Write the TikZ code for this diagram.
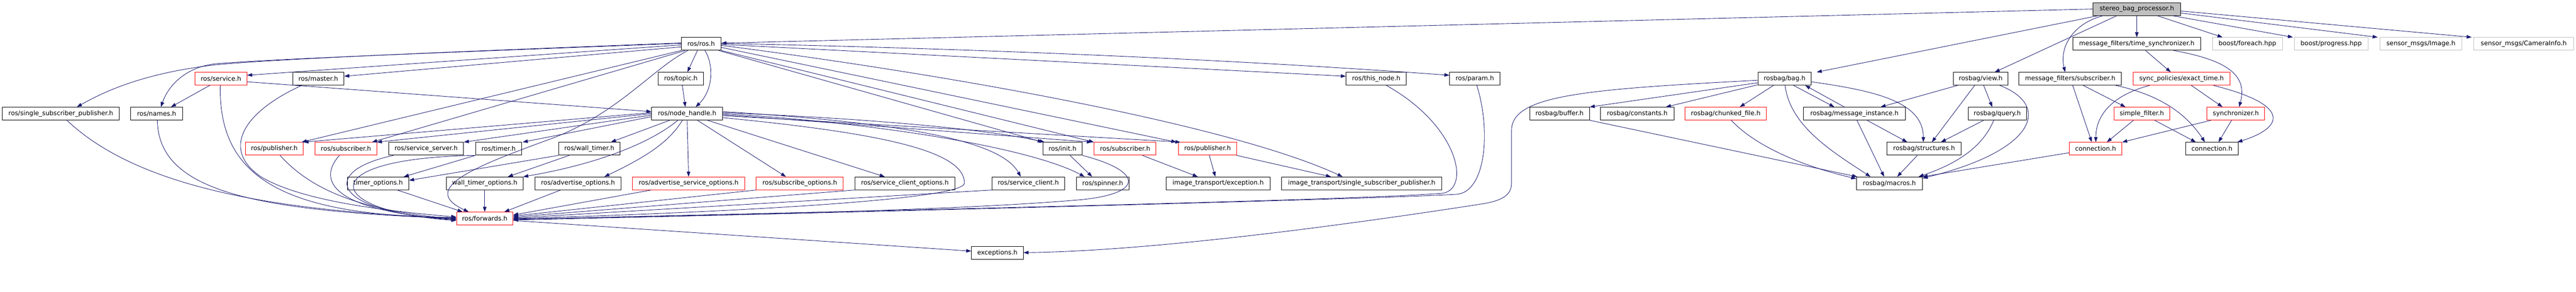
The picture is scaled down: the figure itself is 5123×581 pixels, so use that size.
\documentclass[tikz,border=0pt]{standalone}
\usepackage{fontspec}
\newfontfamily\dejavu{DejaVu Sans}
\usetikzlibrary{arrows.meta}
\definecolor{edgeblue}{HTML}{191970}
\definecolor{grayseventyfive}{HTML}{BFBFBF}
\tikzset{
  box/.style={draw=black, line width=1pt, fill=white, minimum height=25.5pt, inner sep=0pt, text=black, font={\dejavu\fontsize{12.6}{15}\selectfont}},
  redbox/.style={box, draw=red},
  greybox/.style={box, draw=grayseventyfive},
  rootbox/.style={box, fill=grayseventyfive},
  edge/.style={draw=edgeblue, line width=0.9pt, -{Triangle[length=10pt,width=7pt]}}
}
\begin{document}
\begin{tikzpicture}[x=1pt,y=-1pt]
\useasboundingbox (0,0) rectangle (5123,581);
% row 0
\node[rootbox, minimum width=175pt] (S) at (4249.5,18) {stereo\_bag\_processor.h};
% row 1
\node[box, minimum width=79pt] (rosh) at (1394.5,87.5) {ros/ros.h};
\node[box, minimum width=255pt] (mfts) at (4249.5,87.5) {message\_filters/time\_synchronizer.h};
\node[greybox, minimum width=139pt] (foreach) at (4469.5,87.5) {boost/foreach.hpp};
\node[greybox, minimum width=146pt] (progress) at (4636,87.5) {boost/progress.hpp};
\node[greybox, minimum width=163pt] (image) at (4814.5,87.5) {sensor\_msgs/Image.h};
\node[greybox, minimum width=198pt] (caminfo) at (5019,87.5) {sensor\_msgs/CameraInfo.h};
% row 2
\node[redbox, minimum width=103pt] (service) at (439.5,157) {ros/service.h};
\node[box, minimum width=102pt] (master) at (633,157) {ros/master.h};
\node[box, minimum width=90pt] (topic) at (1354,157) {ros/topic.h};
\node[box, minimum width=120pt] (thisnode) at (2737,157) {ros/this\_node.h};
\node[box, minimum width=100pt] (param) at (2933,157) {ros/param.h};
\node[box, minimum width=106pt] (bag) at (3549,157) {rosbag/bag.h};
\node[box, minimum width=108pt] (view) at (3939,157) {rosbag/view.h};
\node[box, minimum width=204pt] (mfsub) at (4117,157) {message\_filters/subscriber.h};
\node[redbox, minimum width=193pt] (exact) at (4338.5,157) {sync\_policies/exact\_time.h};
% row 3
\node[box, minimum width=232pt] (ssp) at (121,226.5) {ros/single\_subscriber\_publisher.h};
\node[box, minimum width=103pt] (names) at (311.5,226.5) {ros/names.h};
\node[box, minimum width=141pt] (nh) at (1366.5,226.5) {ros/node\_handle.h};
\node[box, minimum width=119pt] (buffer) at (3101.5,226.5) {rosbag/buffer.h};
\node[box, minimum width=146pt] (constants) at (3256,226.5) {rosbag/constants.h};
\node[redbox, minimum width=162pt] (chunked) at (3432,226.5) {rosbag/chunked\_file.h};
\node[box, minimum width=202pt] (msginst) at (3688,226.5) {rosbag/message\_instance.h};
\node[box, minimum width=116pt] (query) at (3972,226.5) {rosbag/query.h};
\node[redbox, minimum width=111pt] (simple) at (4259.5,226.5) {simple\_filter.h};
\node[redbox, minimum width=115pt] (sync) at (4446.5,226.5) {synchronizer.h};
% row 4
\node[redbox, minimum width=115pt] (pub1) at (545.5,296.5) {ros/publisher.h};
\node[redbox, minimum width=122pt] (sub1) at (688,296.5) {ros/subscriber.h};
\node[box, minimum width=149pt] (srvsrv) at (847.5,296.5) {ros/service\_server.h};
\node[box, minimum width=91pt] (timer) at (991.5,296.5) {ros/timer.h};
\node[box, minimum width=122pt] (wtimer) at (1172,296.5) {ros/wall\_timer.h};
\node[box, minimum width=78pt] (init) at (2113,296.5) {ros/init.h};
\node[redbox, minimum width=123pt] (sub2) at (2237.5,296.5) {ros/subscriber.h};
\node[redbox, minimum width=115pt] (pub2) at (2401.5,296.5) {ros/publisher.h};
\node[box, minimum width=147pt] (structs) at (3826.5,296.5) {rosbag/structures.h};
\node[redbox, minimum width=105pt] (conn1) at (4167.5,296.5) {connection.h};
\node[box, minimum width=104pt] (conn2) at (4399,296.5) {connection.h};
% row 5
\node[box, minimum width=122pt] (topts) at (752,365.5) {timer\_options.h};
\node[box, minimum width=152pt] (wtopts) at (964,365.5) {wall\_timer\_options.h};
\node[box, minimum width=171pt] (advopts) at (1149.5,365.5) {ros/advertise\_options.h};
\node[redbox, minimum width=223pt] (advsrvopts) at (1369.5,365.5) {ros/advertise\_service\_options.h};
\node[redbox, minimum width=173pt] (subopts) at (1590.5,365.5) {ros/subscribe\_options.h};
\node[box, minimum width=199pt] (srvcliopts) at (1799.5,365.5) {ros/service\_client\_options.h};
\node[box, minimum width=144pt] (srvcli) at (2045,365.5) {ros/service\_client.h};
\node[box, minimum width=104pt] (spinner) at (2193,365.5) {ros/spinner.h};
\node[box, minimum width=207pt] (itexc) at (2422.5,365.5) {image\_transport/exception.h};
\node[box, minimum width=318pt] (itssp) at (2708,365.5) {image\_transport/single\_subscriber\_publisher.h};
\node[box, minimum width=131pt] (macros) at (3757.5,365.5) {rosbag/macros.h};
% row 6, 7
\node[redbox, minimum width=112pt] (forwards) at (964,435.5) {ros/forwards.h};
\node[box, minimum width=103pt] (exceptions) at (1983.5,504.5) {exceptions.h};

% ---- edges from the root
\draw[edge] (S.west) -- ([yshift=1.5]rosh.east);
\draw[edge] ([xshift=-76.5]S.south) -- ([xshift=64]bag.north);
\draw[edge] ([xshift=-39.5]S.south) -- ([xshift=28]view.north);
\draw[edge] ([xshift=-66.5]S.south) .. controls +(-60,15) and +(-12,-50) .. ([xshift=-10]mfsub.north);
\draw[edge] (S.south) -- (mfts.north);
\draw[edge] ([xshift=40.5]S.south) -- ([xshift=-49.5]foreach.north);
\draw[edge] ([xshift=70.5]S.south) -- ([xshift=-76]progress.north);
\draw[edge] ([yshift=-8]S.east) -- ([xshift=-4]image.north west);
\draw[edge] ([yshift=-4]S.east) -- ([xshift=-4]caminfo.north west);

% ---- ros/ros.h
\draw[edge] ([yshift=2]rosh.west) .. controls (900,103) and (560,117) .. (430,129) .. controls (300,144) and (220,175) .. ([xshift=32]ssp.north);
\draw[edge] ([yshift=1]rosh.west) .. controls (900,104) and (550,117) .. (430,127) .. controls (370,133) and (335,170) .. ([xshift=8.5]names.north);
\draw[edge] ([yshift=-2]rosh.west) -- ([yshift=7]service.east);
\draw[edge] ([yshift=-6]rosh.west) -- ([yshift=5]master.east);
\draw[edge] (rosh.south west) -- ([xshift=54.5]pub1.north);
\draw[edge] ([xshift=-32]rosh.south) -- ([xshift=52]sub1.north);
\draw[edge] ([xshift=-7.5]rosh.south) -- ([xshift=13]topic.north);
\draw[edge] ([xshift=7.5]rosh.south) .. controls (1420,130) and (1418,180) .. ([xshift=17]nh.north);
\draw[edge] ([yshift=-1]rosh.east) -- ([yshift=5]thisnode.west);
\draw[edge] ([yshift=1]rosh.east) .. controls (2000,98) and (2500,122) .. ([yshift=7]param.west);
\draw[edge] ([yshift=-3]rosh.east) .. controls (1900,150) and (2450,250) .. ([xshift=-38]itssp.north);
\draw[edge] ([yshift=-7]rosh.east) -- ([xshift=-4]pub2.north west);
\draw[edge] (rosh.south east) -- (sub2.north west);
\draw[edge] ([xshift=-5]rosh.south east) -- (init.north west);
\draw[edge] ([xshift=-26.5]rosh.south) .. controls (1300,135) and (1230,225) .. (1100,275) .. controls (950,330) and (830,375) .. ([xshift=-32]forwards.north);

% ---- ros/node_handle.h
\draw[edge] ([yshift=2]nh.west) -- (pub1.north east);
\draw[edge] (nh.west) -- (sub1.north east);
\draw[edge] ([yshift=-3]nh.west) -- (srvsrv.north east);
\draw[edge] ([yshift=-6]nh.west) -- ([xshift=2]timer.north east);
\draw[edge] ([xshift=-34.5]nh.south) -- ([xshift=43]wtimer.north);
\draw[edge] ([xshift=-18.5]nh.south) .. controls (1300,280) and (1200,325) .. (wtopts.north east);
\draw[edge] ([xshift=-9.5]nh.south) .. controls (1330,285) and (1280,315) .. ([xshift=52.5]advopts.north);
\draw[edge] (nh.south) -- (advsrvopts.north);
\draw[edge] ([xshift=20.5]nh.south) -- ([xshift=-27.5]subopts.north);
\draw[edge] ([xshift=40.5]nh.south) -- ([xshift=-40]srvcliopts.north);
\draw[edge] ([yshift=4]nh.east) .. controls (1800,245) and (1990,280) .. ([xshift=-15]srvcli.north);
\draw[edge] ([yshift=2]nh.east) .. controls (1700,235) and (1950,255) .. ([xshift=4]init.north west);
\draw[edge] (nh.east) .. controls (1750,245) and (2050,295) .. ([xshift=-36]spinner.north);
\draw[edge] ([yshift=-2]nh.east) -- ([xshift=-4]sub2.north west);
\draw[edge] ([yshift=-4]nh.east) -- ([xshift=4]pub2.north west);
\draw[edge] ([yshift=-8]nh.east) .. controls (1750,265) and (1918,300) .. (1918,365) .. controls (1918,400) and (1400,425) .. (forwards.east);

% ---- other ros headers
\draw[edge] ([xshift=-22.5]service.south) -- ([xshift=28.5]names.north);
\draw[edge] ([yshift=-6]service.east) -- ([yshift=4]nh.west);
\draw[edge] ([xshift=-1.5]service.south) .. controls (435,340) and (540,430) .. ([yshift=2]forwards.west);
\draw[edge] ([xshift=-33]master.south) .. controls (480,225) and (440,300) .. (520,353) .. controls (600,400) and (760,420) .. ([yshift=3]forwards.west);
\draw[edge] ([xshift=3]topic.south) -- ([xshift=-3.5]nh.north);
\draw[edge] ([xshift=12]ssp.south) .. controls (260,360) and (500,420) .. ([yshift=1]forwards.west);
\draw[edge] ([xshift=1.5]names.south) .. controls (315,380) and (500,420) .. ([yshift=0]forwards.west);
\draw[edge] ([xshift=11.5]pub1.south) .. controls (620,380) and (720,420) .. ([yshift=-1]forwards.west);
\draw[edge] ([xshift=-13]sub1.south) .. controls (630,360) and (660,420) .. ([yshift=-2]forwards.west);
\draw[edge] ([xshift=10]srvsrv.south west) .. controls (640,340) and (650,420) .. ([yshift=-3]forwards.west);
\draw[edge] (timer.south west) .. controls (620,315) and (640,420) .. ([yshift=-4]forwards.west);
\draw[edge] (timer.south west) -- ([xshift=51]topts.north);
\draw[edge] (wtimer.south west) -- ([yshift=6]topts.east);
\draw[edge] ([xshift=-40]wtimer.south) -- ([xshift=46]wtopts.north);
\draw[edge] ([xshift=38]topts.south) -- ([xshift=-44]forwards.north);
\draw[edge] (wtopts.south) -- (forwards.north);
\draw[edge] ([xshift=-34.5]advopts.south) -- ([xshift=39]forwards.north);
\draw[edge] ([xshift=-74.5]advsrvopts.south) -- ([yshift=7]forwards.east);
\draw[edge] (subopts.south west) -- ([yshift=5]forwards.east);
\draw[edge] (srvcliopts.south west) -- ([yshift=3]forwards.east);
\draw[edge] (srvcli.south west) -- ([yshift=1]forwards.east);
\draw[edge] (init.south east) .. controls (2270,340) and (2280,385) .. (2150,398) .. controls (1900,420) and (1400,430) .. ([yshift=-1]forwards.east);
\draw[edge] ([xshift=15]init.south) -- ([xshift=-21]spinner.north);
\draw[edge] ([xshift=34.5]sub2.south) -- ([xshift=-40.5]itexc.north);
\draw[edge] ([xshift=3.5]pub2.south) -- ([xshift=-5.5]itexc.north);
\draw[edge] (pub2.south east) -- ([xshift=-61]itssp.north);
\draw[edge] ([xshift=20]thisnode.south) .. controls (2900,250) and (2925,375) .. (2870,385) .. controls (2700,400) and (1500,425) .. ([yshift=-2]forwards.east);
\draw[edge] ([xshift=4]param.south) .. controls (2965,260) and (2955,378) .. (2900,387) .. controls (2750,397) and (1500,428) .. ([yshift=-3]forwards.east);
\draw[edge] ([yshift=-4]forwards.east) -- ([yshift=4]exceptions.west);
\draw[edge] ([yshift=-3]bag.west) .. controls (3150,178) and (3006,190) .. (3006,260) -- (3006,365) .. controls (3006,390) and (2985,400) .. (2950,406) .. controls (2700,445) and (2300,500) .. ([yshift=1]exceptions.east);

% ---- rosbag
\draw[edge] ([yshift=-8]bag.west) -- (buffer.north east);
\draw[edge] ([yshift=-12]bag.west) -- ([xshift=57]constants.north);
\draw[edge] ([xshift=-22]bag.south) -- ([xshift=28]chunked.north);
\draw[edge] ([xshift=1]bag.south) .. controls (3560,250) and (3640,300) .. ([xshift=-37.5]macros.north);
\draw[edge] ([xshift=18]bag.south) -- ([xshift=-40]msginst.north);
\draw[edge] ([xshift=-20]msginst.north) -- ([xshift=41]bag.south);
\draw[edge] ([yshift=-6]bag.east) .. controls (3720,180) and (3825,200) .. ([xshift=-1.5]structs.north);
\draw[edge] ([xshift=11]chunked.south) .. controls (3490,290) and (3580,330) .. ([yshift=-4]macros.north west);
\draw[edge] (buffer.south east) -- ([xshift=2]macros.north west);
\draw[edge] ([xshift=5]msginst.south) -- ([xshift=-10.5]macros.north);
\draw[edge] ([xshift=25]msginst.south) -- ([xshift=-33.5]structs.north);
\draw[edge] ([xshift=-13.5]structs.south) -- ([xshift=15.5]macros.north);
\draw[edge] ([xshift=-46]view.south) -- ([xshift=52]msginst.north);
\draw[edge] ([xshift=-12]view.south) -- ([xshift=15.5]structs.north);
\draw[edge] ([xshift=6]view.south) -- ([xshift=-10]query.north);
\draw[edge] ([xshift=38]view.south) .. controls (4080,210) and (4050,300) .. ([yshift=-3]macros.north east);
\draw[edge] ([xshift=-27]query.south) -- ([xshift=33.5]structs.north);
\draw[edge] ([xshift=-7]query.south) .. controls (3940,300) and (3880,330) .. ([xshift=-8]macros.north east);
\draw[edge] ([yshift=-8]conn1.west) -- (macros.north east);

% ---- message_filters
\draw[edge] ([xshift=5]mfsub.south) -- ([xshift=-7.5]conn1.north);
\draw[edge] ([xshift=26]mfsub.south) -- ([xshift=-32.5]simple.north);
\draw[edge] ([xshift=-12]mfsub.south east) .. controls (4300,190) and (4350,230) .. ([xshift=-14]conn2.north);
\draw[edge] ([xshift=17.5]mfts.south) -- ([xshift=-21.5]exact.north);
\draw[edge] ([xshift=73.5]mfts.south) .. controls (4430,120) and (4470,150) .. ([xshift=6.5]sync.north);
\draw[edge] ([xshift=-63.5]exact.south) .. controls (4200,190) and (4168,230) .. ([xshift=0.5]conn1.north);
\draw[edge] ([xshift=19.5]exact.south) -- ([xshift=-26.5]sync.north);
\draw[edge] ([xshift=63.5]exact.south) .. controls (4560,210) and (4540,255) .. ([xshift=-2]conn2.north east);
\draw[edge] ([xshift=-16.5]simple.south) -- ([xshift=22.5]conn1.north);
\draw[edge] ([xshift=25.5]simple.south) -- ([xshift=-32]conn2.north);
\draw[edge] ([xshift=-49.5]sync.south) -- (conn1.north east);
\draw[edge] ([xshift=-8.5]sync.south) -- ([xshift=13]conn2.north);
\end{tikzpicture}
\end{document}
